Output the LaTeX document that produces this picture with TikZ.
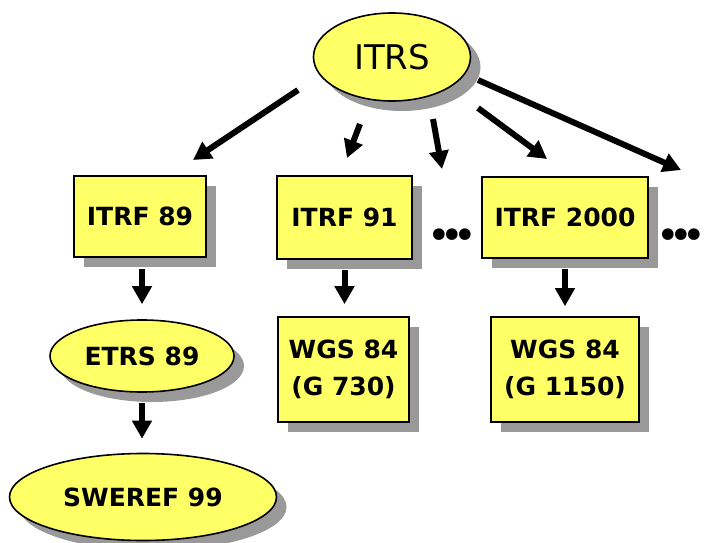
\documentclass[tikz,border=0pt]{standalone}
\usepackage{fontspec}
\setmainfont{DejaVu Sans}
\usetikzlibrary{arrows.meta,shapes.geometric,shadows}
\definecolor{boxyellow}{HTML}{FFFF66}
\definecolor{shadowgray}{HTML}{999999}
\newcommand{\mydots}{•\kern-10.5pt•\kern-10.5pt•}
\tikzset{
  myshadow/.style={general shadow={fill=shadowgray, shadow xshift=10pt, shadow yshift=-10pt}},
  ybox/.style={draw=black, line width=1.6pt, fill=boxyellow, myshadow, inner sep=0pt,
    font=\fontsize{25}{37}\selectfont\bfseries, align=center},
  yell/.style={ellipse, draw=black, line width=1.6pt, fill=boxyellow, myshadow, inner sep=0pt,
    font=\fontsize{25}{30}\selectfont\bfseries},
  bigarrow/.style={line width=6pt, -{Triangle[length=18pt,width=19pt]}},
  dotstext/.style={font=\fontsize{40}{40}\selectfont, inner sep=0pt}
}
\begin{document}
\begin{tikzpicture}[x=1pt,y=-1pt]
\useasboundingbox (0,0) rectangle (707,543);
% nodes
\node[yell, minimum width=157pt, minimum height=88pt, font=\fontsize{34}{40}\selectfont] (itrs) at (392,57) {ITRS};
\node[ybox, minimum width=132pt, minimum height=81pt] (itrf89) at (140,216.5) {ITRF 89};
\node[ybox, minimum width=135pt, minimum height=83pt] (itrf91) at (344.5,217.5) {ITRF 91};
\node[ybox, minimum width=166pt, minimum height=81pt] (itrf2000) at (565,217.5) {ITRF 2000};
\node[ybox, minimum width=131pt, minimum height=105pt] (wgsa) at (343.5,369.5) {WGS 84\\(G 730)};
\node[ybox, minimum width=148pt, minimum height=105pt] (wgsb) at (565,369.5) {WGS 84\\(G 1150)};
\node[yell, minimum width=184pt, minimum height=72pt] (etrs) at (142,356) {ETRS 89};
\node[yell, minimum width=267pt, minimum height=87pt] (sweref) at (143,497) {SWEREF 99};
\node[dotstext] (dotsa) at (452,239) {\mydots};
\node[dotstext, anchor=east] (dotsb) at (706,239) {\mydots};
% free ends of the arrows from ITRS
\coordinate (s1) at (298,90);  \coordinate (e1) at (193,160);
\coordinate (s2) at (360,124); \coordinate (e2) at (347,158);
\coordinate (s3) at (433,119); \coordinate (e3) at (442,169);
\coordinate (s4) at (478,108); \coordinate (e4) at (547,159);
\coordinate (s5) at (478,80);  \coordinate (e5) at (681,170);
\draw[bigarrow] (s1) -- (e1);
\draw[bigarrow] (s2) -- (e2);
\draw[bigarrow] (s3) -- (e3);
\draw[bigarrow] (s4) -- (e4);
\draw[bigarrow] (s5) -- (e5);
% vertical arrows
\draw[bigarrow, shorten <=11pt, shorten >=15pt] (itrf89.south -| etrs.north) -- (etrs.north);
\draw[bigarrow, shorten <=10pt, shorten >=14pt] (etrs.south) -- (sweref.north -| etrs.south);
\draw[bigarrow, shorten <=10pt, shorten >=12pt] (itrf91.south) -- (itrf91.south |- wgsa.north);
\draw[bigarrow, shorten <=10pt, shorten >=10pt] (itrf2000.south) -- (itrf2000.south |- wgsb.north);
\end{tikzpicture}
\end{document}
